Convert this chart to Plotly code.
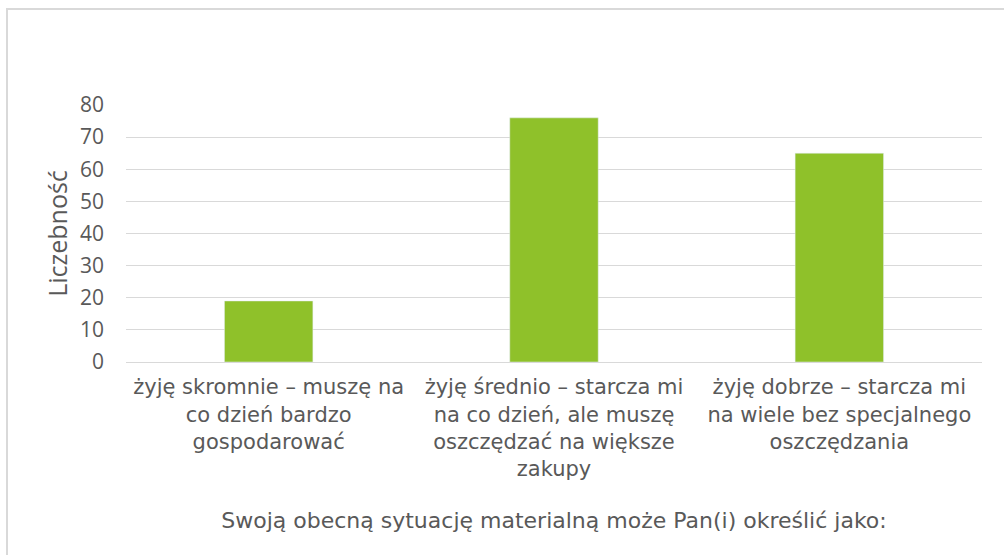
import plotly.graph_objects as go

categories = [
    "żyję skromnie – muszę na<br>co dzień bardzo<br>gospodarować",
    "żyję średnio – starcza mi<br>na co dzień, ale muszę<br>oszczędzać na większe<br>zakupy",
    "żyję dobrze – starcza mi<br>na wiele bez specjalnego<br>oszczędzania",
]
values = [19, 76, 65]
y_ticks = [0, 10, 20, 30, 40, 50, 60, 70, 80]

W, H = 1004, 555
L, R, T, B = 126, 22, 105, 193
pw, ph = W - L - R, H - T - B

fig = go.Figure(go.Bar(x=categories, y=values, marker_color="#8fc12a", width=0.31))

def px2x(p):
    return (p - L) / pw

def px2y(p):
    return (H - B - p) / ph

fig.update_layout(
    width=W, height=H,
    margin=dict(l=L, r=R, t=T, b=B, autoexpand=False),
    paper_bgcolor="white", plot_bgcolor="white",
    showlegend=False,
    font=dict(family="DejaVu Sans", color="#595959", size=17),
    xaxis=dict(
        showgrid=False, showline=True, linecolor="#d9d9d9", linewidth=1,
        ticks="", ticklabelstandoff=6,
        tickfont=dict(size=21, family="DejaVu Sans", color="#595959"),
        title=dict(text="Swoją obecną sytuację materialną może Pan(i) określić jako:",
                   font=dict(size=22, family="DejaVu Sans", color="#595959"), standoff=32),
    ),
    yaxis=dict(
        range=[0, 80], tickvals=y_ticks, showgrid=True, gridcolor="#d9d9d9",
        zeroline=False, showline=False, ticks="",
        tickfont=dict(size=21, family="Open Sans", color="#595959"), ticklabelstandoff=21,
        title=dict(text="Liczebność", font=dict(size=25, family="Open Sans", color="#595959"), standoff=5),
    ),
    shapes=[dict(type="rect", xref="paper", yref="paper",
                 x0=px2x(7), x1=px2x(1010), y0=px2y(9), y1=px2y(560),
                 line=dict(color="#d9d9d9", width=2), fillcolor="rgba(0,0,0,0)", layer="below")],
)

fig.write_html("out.html", config={"displayModeBar": False},
               post_script="document.body.style.margin='0';")
